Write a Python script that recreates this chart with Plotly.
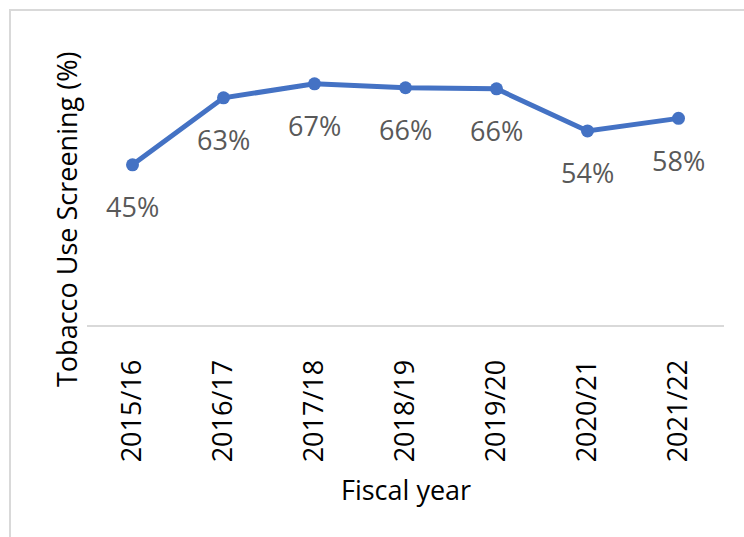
import plotly.graph_objects as go

years = ["2015/16", "2016/17", "2017/18", "2018/19", "2019/20", "2020/21", "2021/22"]
screening = [44.5, 63.1, 67.0, 65.9, 65.6, 53.9, 57.4]
labels = ["45%", "63%", "67%", "66%", "66%", "54%", "58%"]

W, H = 744, 537
L, R, T, B = 87, 724, 37, 325  # plot area pixel bounds


def px_x(px):
    return (px - L) / (R - L)


def px_y(py):
    return (B - py) / (B - T)


fig = go.Figure()
fig.add_trace(go.Scatter(
    x=years, y=screening, mode="lines+markers",
    line=dict(color="#4472C4", width=5),
    marker=dict(color="#4472C4", size=13),
    hoverinfo="skip", showlegend=False,
))

for yr, v, t in zip(years, screening, labels):
    fig.add_annotation(x=yr, y=v, text=t, showarrow=False, yshift=-42,
                       font=dict(family="Open Sans", size=27, color="#595959"))

fig.add_annotation(xref="paper", yref="paper", x=px_x(66), y=px_y(220),
                   text="Tobacco Use Screening (%)", textangle=-90, showarrow=False,
                   xanchor="center", yanchor="middle",
                   font=dict(family="Open Sans", size=27, color="#000000"))
fig.add_annotation(xref="paper", yref="paper", x=0.5, y=px_y(490),
                   text="Fiscal year", showarrow=False,
                   xanchor="center", yanchor="middle",
                   font=dict(family="Open Sans", size=27, color="#000000"))

fig.add_shape(type="rect", xref="paper", yref="paper",
              x0=px_x(10), y0=px_y(560), x1=px_x(760), y1=px_y(10),
              line=dict(color="#d9d9d9", width=2), layer="below")

fig.update_layout(
    width=W, height=H,
    margin=dict(l=L, r=W - R, t=T, b=H - B, pad=0),
    paper_bgcolor="white", plot_bgcolor="white",
    xaxis=dict(type="category", showline=True, linecolor="#d9d9d9", linewidth=2,
               showgrid=False, zeroline=False, tickangle=-90, ticks="",
               ticklabelstandoff=22,
               tickfont=dict(family="Open Sans", size=27, color="#000000"),
               range=[-0.5, 6.5]),
    yaxis=dict(range=[0, 80], showgrid=False, zeroline=False, showline=False,
               showticklabels=False, ticks=""),
)

fig.write_html("out.html")
